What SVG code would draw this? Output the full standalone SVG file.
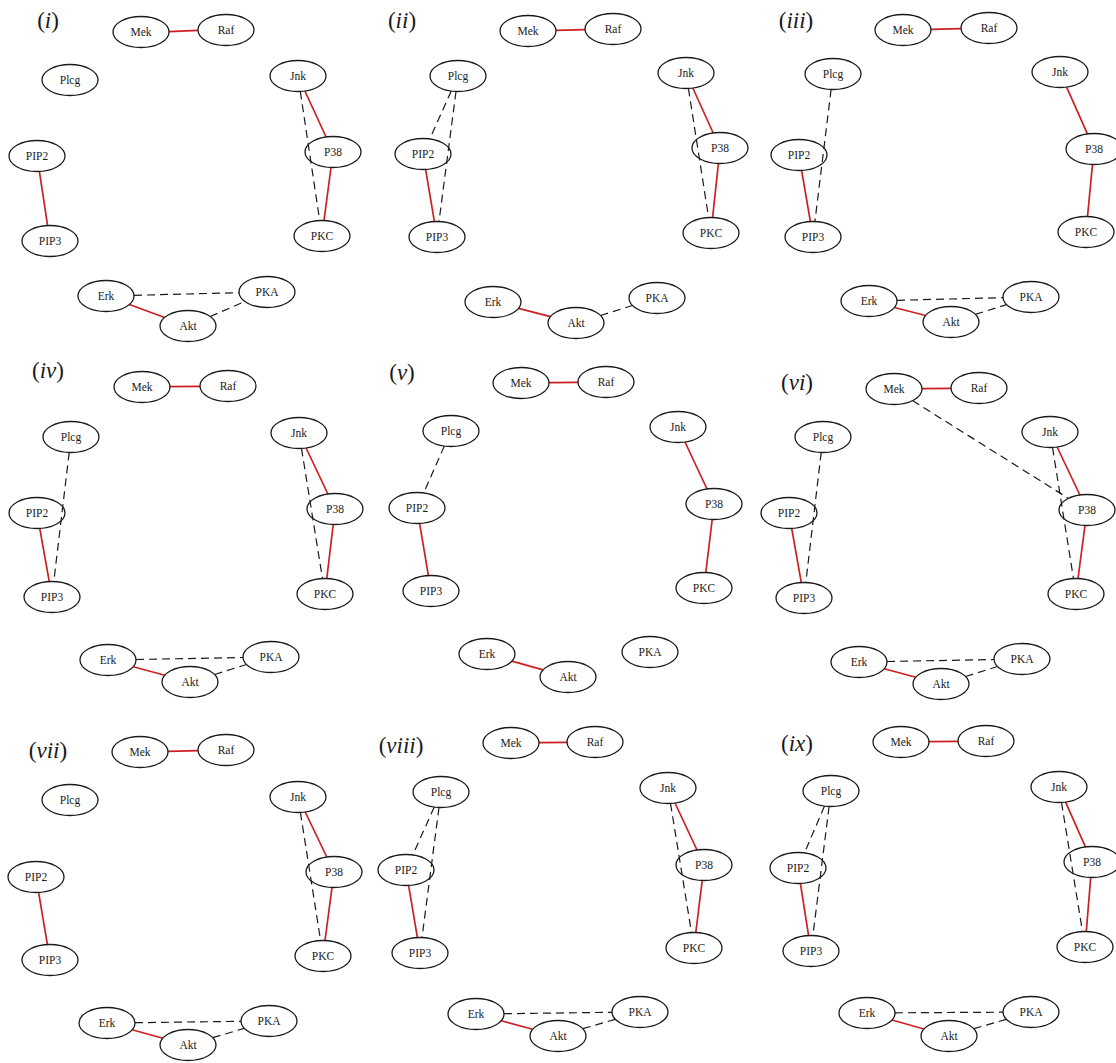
<svg xmlns="http://www.w3.org/2000/svg" width="1116" height="1063" viewBox="0 0 1116 1063">
<style>
.n ellipse{fill:none;stroke:#1a1a1a;stroke-width:1.3}
.n text{font-family:"Liberation Serif",serif;font-size:11.5px;fill:#1a1a1a;text-anchor:middle}
.lbl{font-family:"Liberation Serif",serif;font-size:23px;fill:#1a1a1a;text-anchor:middle}
.r{stroke:#cc2020;stroke-width:1.7;fill:none}
.d{stroke:#1a1a1a;stroke-width:1.2;stroke-dasharray:8 5;fill:none}
</style>
<rect width="1116" height="1063" fill="#ffffff"/>
<g id="labels">
<text class="lbl" x="48" y="28">(<tspan font-style="italic">i</tspan>)</text>
<text class="lbl" x="402" y="28">(<tspan font-style="italic">ii</tspan>)</text>
<text class="lbl" x="796" y="28">(<tspan font-style="italic">iii</tspan>)</text>
<text class="lbl" x="48" y="378">(<tspan font-style="italic">iv</tspan>)</text>
<text class="lbl" x="402" y="380">(<tspan font-style="italic">v</tspan>)</text>
<text class="lbl" x="797" y="390">(<tspan font-style="italic">vi</tspan>)</text>
<text class="lbl" x="48" y="758">(<tspan font-style="italic">vii</tspan>)</text>
<text class="lbl" x="401" y="753">(<tspan font-style="italic">viii</tspan>)</text>
<text class="lbl" x="797" y="751">(<tspan font-style="italic">ix</tspan>)</text>
</g>
<g id="connectors">
<!-- panel i -->
<line class="r" x1="169" y1="31.7" x2="198" y2="30.3"/>
<line class="r" x1="304.9" y1="91" x2="326.1" y2="137"/>
<line class="r" x1="331" y1="167.5" x2="324" y2="220.5"/>
<line class="d" x1="300.3" y1="91.4" x2="319.7" y2="220.6"/>
<line class="r" x1="39.4" y1="171.4" x2="47.6" y2="225.6"/>
<line class="r" x1="129.4" y1="304.5" x2="164.6" y2="317.5"/>
<line class="d" x1="134" y1="295.3" x2="239" y2="292.7"/>
<line class="d" x1="210.1" y1="316.5" x2="244.9" y2="301.5"/>
<!-- panel ii -->
<line class="r" x1="556" y1="30.3" x2="585" y2="29.7"/>
<line class="d" x1="451.25" y1="91.05" x2="429.75" y2="138.95"/>
<line class="d" x1="456" y1="91.5" x2="439" y2="221.5"/>
<line class="r" x1="425.6" y1="169.4" x2="434.4" y2="221.6"/>
<line class="r" x1="692.8" y1="88" x2="713.2" y2="133"/>
<line class="r" x1="718.4" y1="163.5" x2="712.6" y2="217.5"/>
<line class="d" x1="688.4" y1="88.4" x2="708.6" y2="217.6"/>
<line class="r" x1="518.5" y1="308.4" x2="550.5" y2="316.6"/>
<line class="d" x1="600.5" y1="315.5" x2="632.5" y2="305.5"/>
<!-- panel iii -->
<line class="r" x1="931" y1="29.3" x2="961" y2="28.7"/>
<line class="d" x1="831.1" y1="89.5" x2="814.9" y2="221.5"/>
<line class="r" x1="801.6" y1="170.4" x2="810.4" y2="221.6"/>
<line class="r" x1="1066.6" y1="87.1" x2="1087.4" y2="133.9"/>
<line class="r" x1="1092.5" y1="164.4" x2="1087.5" y2="216.6"/>
<line class="r" x1="894.4" y1="307.5" x2="925.6" y2="315.5"/>
<line class="d" x1="897" y1="300.3" x2="1003" y2="297.7"/>
<line class="d" x1="975.4" y1="314.4" x2="1006.6" y2="304.6"/>
<!-- panel iv -->
<line class="r" x1="170" y1="386.7" x2="200" y2="386.3"/>
<line class="d" x1="69.2" y1="452.5" x2="53.8" y2="581.5"/>
<line class="r" x1="39.75" y1="528.4" x2="49.25" y2="581.6"/>
<line class="r" x1="306.1" y1="448" x2="327.9" y2="494"/>
<line class="r" x1="333.2" y1="524.5" x2="326.8" y2="578.5"/>
<line class="d" x1="301.5" y1="448.4" x2="322.5" y2="578.6"/>
<line class="r" x1="133.2" y1="666.8" x2="164.8" y2="675.2"/>
<line class="d" x1="136" y1="659.5" x2="243" y2="657.5"/>
<line class="d" x1="214.5" y1="674.5" x2="246.5" y2="664.5"/>
<!-- panel v -->
<line class="r" x1="549" y1="382.7" x2="578" y2="382.3"/>
<line class="d" x1="444.35" y1="446.05" x2="423.65" y2="492.95"/>
<line class="r" x1="419.6" y1="523.4" x2="428.4" y2="575.6"/>
<line class="r" x1="685" y1="442" x2="707" y2="489"/>
<line class="r" x1="712.2" y1="519.5" x2="705.8" y2="572.5"/>
<line class="r" x1="511.9" y1="661.1" x2="543.1" y2="669.9"/>
<!-- panel vi -->
<line class="r" x1="922" y1="388.7" x2="951" y2="388.3"/>
<line class="d" x1="912.5" y1="400.6" x2="1068.5" y2="498.4"/>
<line class="d" x1="821.2" y1="452.5" x2="805.8" y2="582.5"/>
<line class="r" x1="791.7" y1="528.4" x2="801.3" y2="582.6"/>
<line class="r" x1="1057.1" y1="447" x2="1079.9" y2="495"/>
<line class="r" x1="1085" y1="525.5" x2="1078" y2="578.5"/>
<line class="d" x1="1052.5" y1="447.4" x2="1073.5" y2="578.6"/>
<line class="r" x1="884.2" y1="668.8" x2="915.8" y2="677.2"/>
<line class="d" x1="887" y1="661.5" x2="994" y2="659.5"/>
<line class="d" x1="965.5" y1="676.5" x2="997.5" y2="666.5"/>
<!-- panel vii -->
<line class="r" x1="168" y1="751.3" x2="198" y2="750.7"/>
<line class="r" x1="38.6" y1="892.4" x2="47.4" y2="944.6"/>
<line class="r" x1="305.2" y1="812" x2="326.8" y2="857"/>
<line class="r" x1="332" y1="887.5" x2="325" y2="940.5"/>
<line class="d" x1="300.4" y1="812.4" x2="320.6" y2="940.6"/>
<line class="r" x1="132.1" y1="1029.8" x2="162.9" y2="1038.2"/>
<line class="d" x1="135" y1="1022.7" x2="241" y2="1021.3"/>
<line class="d" x1="212.7" y1="1037.7" x2="244.3" y2="1028.3"/>
<!-- panel viii -->
<line class="r" x1="539" y1="742.7" x2="567" y2="742.3"/>
<line class="d" x1="434.25" y1="807.05" x2="412.75" y2="854.95"/>
<line class="d" x1="439" y1="807.5" x2="422" y2="937.5"/>
<line class="r" x1="408.6" y1="885.4" x2="417.4" y2="937.6"/>
<line class="r" x1="675" y1="803" x2="697" y2="850"/>
<line class="r" x1="702.2" y1="880.5" x2="695.8" y2="932.5"/>
<line class="d" x1="670.5" y1="803.4" x2="691.5" y2="932.6"/>
<line class="r" x1="501.2" y1="1020.8" x2="532.8" y2="1029.2"/>
<line class="d" x1="504" y1="1013.7" x2="612" y2="1012.3"/>
<line class="d" x1="582.8" y1="1028.7" x2="615.2" y2="1019.3"/>
<!-- panel ix -->
<line class="r" x1="929" y1="741.7" x2="958" y2="741.3"/>
<line class="d" x1="824.5" y1="806.1" x2="804.5" y2="852.9"/>
<line class="d" x1="829.1" y1="806.5" x2="812.9" y2="935.5"/>
<line class="r" x1="800.4" y1="883.4" x2="808.6" y2="935.6"/>
<line class="r" x1="1065.6" y1="802.1" x2="1085.4" y2="846.9"/>
<line class="r" x1="1090.7" y1="877.5" x2="1086.3" y2="931.5"/>
<line class="d" x1="1061.5" y1="802.4" x2="1082.5" y2="931.6"/>
<line class="r" x1="892.1" y1="1020" x2="923.9" y2="1029"/>
<line class="d" x1="895" y1="1012.8" x2="1003" y2="1012.2"/>
<line class="d" x1="973.8" y1="1028.7" x2="1006.2" y2="1019.3"/>
</g>
<!-- panel i nodes -->
<g id="i-Mek" class="n"><ellipse cx="141" cy="32" rx="28" ry="15.5"/><text x="141" y="36">Mek</text></g>
<g id="i-Raf" class="n"><ellipse cx="226" cy="30" rx="28" ry="15.5"/><text x="226" y="34">Raf</text></g>
<g id="i-Plcg" class="n"><ellipse cx="70" cy="80" rx="28" ry="15.5"/><text x="70" y="84">Plcg</text></g>
<g id="i-PIP2" class="n"><ellipse cx="37" cy="156" rx="28" ry="15.5"/><text x="37" y="160">PIP2</text></g>
<g id="i-PIP3" class="n"><ellipse cx="50" cy="241" rx="28" ry="15.5"/><text x="50" y="245">PIP3</text></g>
<g id="i-Jnk" class="n"><ellipse cx="298" cy="76" rx="28" ry="15.5"/><text x="298" y="80">Jnk</text></g>
<g id="i-P38" class="n"><ellipse cx="333" cy="152" rx="28" ry="15.5"/><text x="333" y="156">P38</text></g>
<g id="i-PKC" class="n"><ellipse cx="322" cy="236" rx="28" ry="15.5"/><text x="322" y="240">PKC</text></g>
<g id="i-Erk" class="n"><ellipse cx="106" cy="296" rx="28" ry="15.5"/><text x="106" y="300">Erk</text></g>
<g id="i-Akt" class="n"><ellipse cx="188" cy="326" rx="28" ry="15.5"/><text x="188" y="330">Akt</text></g>
<g id="i-PKA" class="n"><ellipse cx="267" cy="292" rx="28" ry="15.5"/><text x="267" y="296">PKA</text></g>
<!-- panel ii nodes -->
<g id="ii-Mek" class="n"><ellipse cx="528" cy="31" rx="28" ry="15.5"/><text x="528" y="35">Mek</text></g>
<g id="ii-Raf" class="n"><ellipse cx="613" cy="29" rx="28" ry="15.5"/><text x="613" y="33">Raf</text></g>
<g id="ii-Plcg" class="n"><ellipse cx="458" cy="76" rx="28" ry="15.5"/><text x="458" y="80">Plcg</text></g>
<g id="ii-PIP2" class="n"><ellipse cx="423" cy="154" rx="28" ry="15.5"/><text x="423" y="158">PIP2</text></g>
<g id="ii-PIP3" class="n"><ellipse cx="437" cy="237" rx="28" ry="15.5"/><text x="437" y="241">PIP3</text></g>
<g id="ii-Jnk" class="n"><ellipse cx="686" cy="73" rx="28" ry="15.5"/><text x="686" y="77">Jnk</text></g>
<g id="ii-P38" class="n"><ellipse cx="720" cy="148" rx="28" ry="15.5"/><text x="720" y="152">P38</text></g>
<g id="ii-PKC" class="n"><ellipse cx="711" cy="233" rx="28" ry="15.5"/><text x="711" y="237">PKC</text></g>
<g id="ii-Erk" class="n"><ellipse cx="493" cy="302" rx="28" ry="15.5"/><text x="493" y="306">Erk</text></g>
<g id="ii-Akt" class="n"><ellipse cx="576" cy="323" rx="28" ry="15.5"/><text x="576" y="327">Akt</text></g>
<g id="ii-PKA" class="n"><ellipse cx="657" cy="298" rx="28" ry="15.5"/><text x="657" y="302">PKA</text></g>
<!-- panel iii nodes -->
<g id="iii-Mek" class="n"><ellipse cx="903" cy="30" rx="28" ry="15.5"/><text x="903" y="34">Mek</text></g>
<g id="iii-Raf" class="n"><ellipse cx="989" cy="28" rx="28" ry="15.5"/><text x="989" y="32">Raf</text></g>
<g id="iii-Plcg" class="n"><ellipse cx="833" cy="74" rx="28" ry="15.5"/><text x="833" y="78">Plcg</text></g>
<g id="iii-PIP2" class="n"><ellipse cx="799" cy="155" rx="28" ry="15.5"/><text x="799" y="159">PIP2</text></g>
<g id="iii-PIP3" class="n"><ellipse cx="813" cy="237" rx="28" ry="15.5"/><text x="813" y="241">PIP3</text></g>
<g id="iii-Jnk" class="n"><ellipse cx="1060" cy="72" rx="28" ry="15.5"/><text x="1060" y="76">Jnk</text></g>
<g id="iii-P38" class="n"><ellipse cx="1094" cy="149" rx="28" ry="15.5"/><text x="1094" y="153">P38</text></g>
<g id="iii-PKC" class="n"><ellipse cx="1086" cy="232" rx="28" ry="15.5"/><text x="1086" y="236">PKC</text></g>
<g id="iii-Erk" class="n"><ellipse cx="869" cy="301" rx="28" ry="15.5"/><text x="869" y="305">Erk</text></g>
<g id="iii-Akt" class="n"><ellipse cx="951" cy="322" rx="28" ry="15.5"/><text x="951" y="326">Akt</text></g>
<g id="iii-PKA" class="n"><ellipse cx="1031" cy="297" rx="28" ry="15.5"/><text x="1031" y="301">PKA</text></g>
<!-- panel iv nodes -->
<g id="iv-Mek" class="n"><ellipse cx="142" cy="387" rx="28" ry="15.5"/><text x="142" y="391">Mek</text></g>
<g id="iv-Raf" class="n"><ellipse cx="228" cy="386" rx="28" ry="15.5"/><text x="228" y="390">Raf</text></g>
<g id="iv-Plcg" class="n"><ellipse cx="71" cy="437" rx="28" ry="15.5"/><text x="71" y="441">Plcg</text></g>
<g id="iv-PIP2" class="n"><ellipse cx="37" cy="513" rx="28" ry="15.5"/><text x="37" y="517">PIP2</text></g>
<g id="iv-PIP3" class="n"><ellipse cx="52" cy="597" rx="28" ry="15.5"/><text x="52" y="601">PIP3</text></g>
<g id="iv-Jnk" class="n"><ellipse cx="299" cy="433" rx="28" ry="15.5"/><text x="299" y="437">Jnk</text></g>
<g id="iv-P38" class="n"><ellipse cx="335" cy="509" rx="28" ry="15.5"/><text x="335" y="513">P38</text></g>
<g id="iv-PKC" class="n"><ellipse cx="325" cy="594" rx="28" ry="15.5"/><text x="325" y="598">PKC</text></g>
<g id="iv-Erk" class="n"><ellipse cx="108" cy="660" rx="28" ry="15.5"/><text x="108" y="664">Erk</text></g>
<g id="iv-Akt" class="n"><ellipse cx="190" cy="682" rx="28" ry="15.5"/><text x="190" y="686">Akt</text></g>
<g id="iv-PKA" class="n"><ellipse cx="271" cy="657" rx="28" ry="15.5"/><text x="271" y="661">PKA</text></g>
<!-- panel v nodes -->
<g id="v-Mek" class="n"><ellipse cx="521" cy="383" rx="28" ry="15.5"/><text x="521" y="387">Mek</text></g>
<g id="v-Raf" class="n"><ellipse cx="606" cy="382" rx="28" ry="15.5"/><text x="606" y="386">Raf</text></g>
<g id="v-Plcg" class="n"><ellipse cx="451" cy="431" rx="28" ry="15.5"/><text x="451" y="435">Plcg</text></g>
<g id="v-PIP2" class="n"><ellipse cx="417" cy="508" rx="28" ry="15.5"/><text x="417" y="512">PIP2</text></g>
<g id="v-PIP3" class="n"><ellipse cx="431" cy="591" rx="28" ry="15.5"/><text x="431" y="595">PIP3</text></g>
<g id="v-Jnk" class="n"><ellipse cx="678" cy="427" rx="28" ry="15.5"/><text x="678" y="431">Jnk</text></g>
<g id="v-P38" class="n"><ellipse cx="714" cy="504" rx="28" ry="15.5"/><text x="714" y="508">P38</text></g>
<g id="v-PKC" class="n"><ellipse cx="704" cy="588" rx="28" ry="15.5"/><text x="704" y="592">PKC</text></g>
<g id="v-Erk" class="n"><ellipse cx="487" cy="654" rx="28" ry="15.5"/><text x="487" y="658">Erk</text></g>
<g id="v-Akt" class="n"><ellipse cx="568" cy="677" rx="28" ry="15.5"/><text x="568" y="681">Akt</text></g>
<g id="v-PKA" class="n"><ellipse cx="650" cy="652" rx="28" ry="15.5"/><text x="650" y="656">PKA</text></g>
<!-- panel vi nodes -->
<g id="vi-Mek" class="n"><ellipse cx="894" cy="389" rx="28" ry="15.5"/><text x="894" y="393">Mek</text></g>
<g id="vi-Raf" class="n"><ellipse cx="979" cy="388" rx="28" ry="15.5"/><text x="979" y="392">Raf</text></g>
<g id="vi-Plcg" class="n"><ellipse cx="823" cy="437" rx="28" ry="15.5"/><text x="823" y="441">Plcg</text></g>
<g id="vi-PIP2" class="n"><ellipse cx="789" cy="513" rx="28" ry="15.5"/><text x="789" y="517">PIP2</text></g>
<g id="vi-PIP3" class="n"><ellipse cx="804" cy="598" rx="28" ry="15.5"/><text x="804" y="602">PIP3</text></g>
<g id="vi-Jnk" class="n"><ellipse cx="1050" cy="432" rx="28" ry="15.5"/><text x="1050" y="436">Jnk</text></g>
<g id="vi-P38" class="n"><ellipse cx="1087" cy="510" rx="28" ry="15.5"/><text x="1087" y="514">P38</text></g>
<g id="vi-PKC" class="n"><ellipse cx="1076" cy="594" rx="28" ry="15.5"/><text x="1076" y="598">PKC</text></g>
<g id="vi-Erk" class="n"><ellipse cx="859" cy="662" rx="28" ry="15.5"/><text x="859" y="666">Erk</text></g>
<g id="vi-Akt" class="n"><ellipse cx="941" cy="684" rx="28" ry="15.5"/><text x="941" y="688">Akt</text></g>
<g id="vi-PKA" class="n"><ellipse cx="1022" cy="659" rx="28" ry="15.5"/><text x="1022" y="663">PKA</text></g>
<!-- panel vii nodes -->
<g id="vii-Mek" class="n"><ellipse cx="140" cy="752" rx="28" ry="15.5"/><text x="140" y="756">Mek</text></g>
<g id="vii-Raf" class="n"><ellipse cx="226" cy="750" rx="28" ry="15.5"/><text x="226" y="754">Raf</text></g>
<g id="vii-Plcg" class="n"><ellipse cx="70" cy="800" rx="28" ry="15.5"/><text x="70" y="804">Plcg</text></g>
<g id="vii-PIP2" class="n"><ellipse cx="36" cy="877" rx="28" ry="15.5"/><text x="36" y="881">PIP2</text></g>
<g id="vii-PIP3" class="n"><ellipse cx="50" cy="960" rx="28" ry="15.5"/><text x="50" y="964">PIP3</text></g>
<g id="vii-Jnk" class="n"><ellipse cx="298" cy="797" rx="28" ry="15.5"/><text x="298" y="801">Jnk</text></g>
<g id="vii-P38" class="n"><ellipse cx="334" cy="872" rx="28" ry="15.5"/><text x="334" y="876">P38</text></g>
<g id="vii-PKC" class="n"><ellipse cx="323" cy="956" rx="28" ry="15.5"/><text x="323" y="960">PKC</text></g>
<g id="vii-Erk" class="n"><ellipse cx="107" cy="1023" rx="28" ry="15.5"/><text x="107" y="1027">Erk</text></g>
<g id="vii-Akt" class="n"><ellipse cx="188" cy="1045" rx="28" ry="15.5"/><text x="188" y="1049">Akt</text></g>
<g id="vii-PKA" class="n"><ellipse cx="269" cy="1021" rx="28" ry="15.5"/><text x="269" y="1025">PKA</text></g>
<!-- panel viii nodes -->
<g id="viii-Mek" class="n"><ellipse cx="511" cy="743" rx="28" ry="15.5"/><text x="511" y="747">Mek</text></g>
<g id="viii-Raf" class="n"><ellipse cx="595" cy="742" rx="28" ry="15.5"/><text x="595" y="746">Raf</text></g>
<g id="viii-Plcg" class="n"><ellipse cx="441" cy="792" rx="28" ry="15.5"/><text x="441" y="796">Plcg</text></g>
<g id="viii-PIP2" class="n"><ellipse cx="406" cy="870" rx="28" ry="15.5"/><text x="406" y="874">PIP2</text></g>
<g id="viii-PIP3" class="n"><ellipse cx="420" cy="953" rx="28" ry="15.5"/><text x="420" y="957">PIP3</text></g>
<g id="viii-Jnk" class="n"><ellipse cx="668" cy="788" rx="28" ry="15.5"/><text x="668" y="792">Jnk</text></g>
<g id="viii-P38" class="n"><ellipse cx="704" cy="865" rx="28" ry="15.5"/><text x="704" y="869">P38</text></g>
<g id="viii-PKC" class="n"><ellipse cx="694" cy="948" rx="28" ry="15.5"/><text x="694" y="952">PKC</text></g>
<g id="viii-Erk" class="n"><ellipse cx="476" cy="1014" rx="28" ry="15.5"/><text x="476" y="1018">Erk</text></g>
<g id="viii-Akt" class="n"><ellipse cx="558" cy="1036" rx="28" ry="15.5"/><text x="558" y="1040">Akt</text></g>
<g id="viii-PKA" class="n"><ellipse cx="640" cy="1012" rx="28" ry="15.5"/><text x="640" y="1016">PKA</text></g>
<!-- panel ix nodes -->
<g id="ix-Mek" class="n"><ellipse cx="901" cy="742" rx="28" ry="15.5"/><text x="901" y="746">Mek</text></g>
<g id="ix-Raf" class="n"><ellipse cx="986" cy="741" rx="28" ry="15.5"/><text x="986" y="745">Raf</text></g>
<g id="ix-Plcg" class="n"><ellipse cx="831" cy="791" rx="28" ry="15.5"/><text x="831" y="795">Plcg</text></g>
<g id="ix-PIP2" class="n"><ellipse cx="798" cy="868" rx="28" ry="15.5"/><text x="798" y="872">PIP2</text></g>
<g id="ix-PIP3" class="n"><ellipse cx="811" cy="951" rx="28" ry="15.5"/><text x="811" y="955">PIP3</text></g>
<g id="ix-Jnk" class="n"><ellipse cx="1059" cy="787" rx="28" ry="15.5"/><text x="1059" y="791">Jnk</text></g>
<g id="ix-P38" class="n"><ellipse cx="1092" cy="862" rx="28" ry="15.5"/><text x="1092" y="866">P38</text></g>
<g id="ix-PKC" class="n"><ellipse cx="1085" cy="947" rx="28" ry="15.5"/><text x="1085" y="951">PKC</text></g>
<g id="ix-Erk" class="n"><ellipse cx="867" cy="1013" rx="28" ry="15.5"/><text x="867" y="1017">Erk</text></g>
<g id="ix-Akt" class="n"><ellipse cx="949" cy="1036" rx="28" ry="15.5"/><text x="949" y="1040">Akt</text></g>
<g id="ix-PKA" class="n"><ellipse cx="1031" cy="1012" rx="28" ry="15.5"/><text x="1031" y="1016">PKA</text></g>
</svg>
